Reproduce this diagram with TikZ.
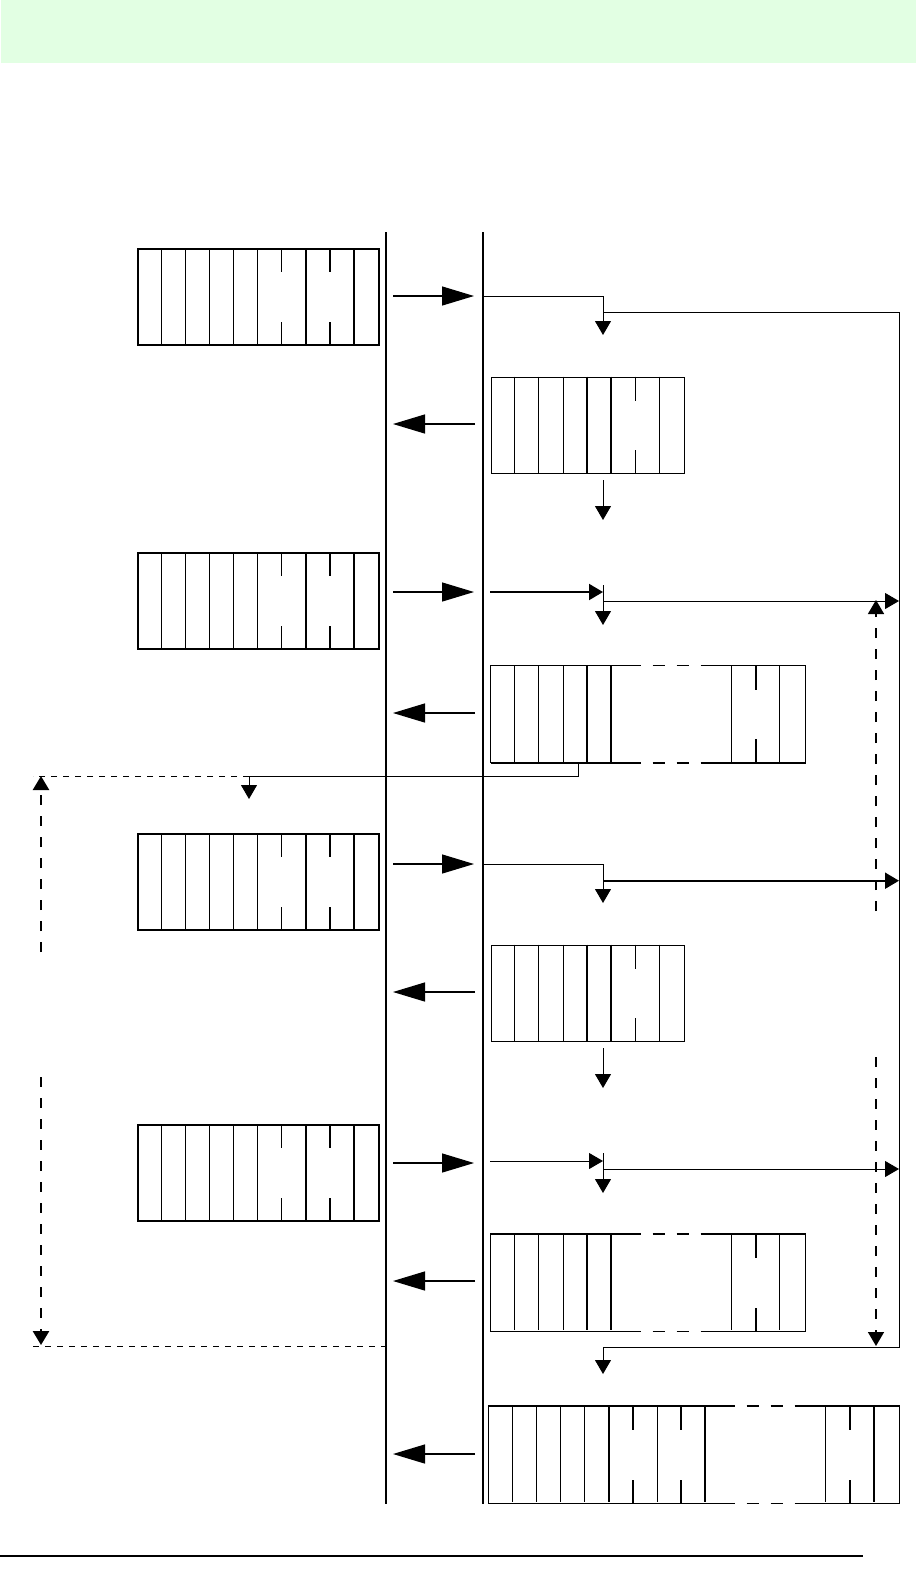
\documentclass[tikz,border=0pt]{standalone}
\usetikzlibrary{arrows.meta}
\definecolor{headgreen}{RGB}{226,255,227}
\newcommand{\cells}[4]{%
  \foreach \k in {#2} \draw[cell] (#1.north west) ++(\k*24.1,0) -- ++(0,96);
  \foreach \k in {#3} \draw[boldcell] (#1.north west) ++(\k*24.1,0) -- ++(0,96);
  \foreach \k in {#4} {
    \draw[boldcell] (#1.north west) ++(\k*24.1,0) -- ++(0,24);
    \draw[boldcell] (#1.south west) ++(\k*24.1,0) -- ++(0,-24);
  }%
}
\newcommand{\gapframe}[2]{%
  \draw[frameline] (#1.south west) -- (#1.north west) -- ++(#2+29.5,0) ++(12,0) -- ++(12,0) ++(12,0) -- ++(12,0) ++(12,0) -- (#1.north east) -- (#1.south east);
  \draw[frameline] (#1.south west) -- ++(#2+29.5,0) ++(12,0) -- ++(12,0) ++(12,0) -- ++(12,0) ++(12,0) -- (#1.south east);
}
\begin{document}
\begin{tikzpicture}[x=1pt, y=-1pt,
    frame/.style={draw, line width=1.5pt, inner sep=0pt, minimum height=96pt, anchor=north west},
    openframe/.style={frame, draw=none},
    frameline/.style={line width=1.5pt},
    cell/.style={line width=1pt},
    boldcell/.style={line width=1.6pt},
    lane/.style={line width=1.3pt},
    bigarrow/.style={-{Triangle[length=32pt,width=19pt]}, line width=1.3pt},
    tip/.style={-{Triangle[length=14pt,width=16pt]}, line width=1pt},
    boldtip/.style={tip, line width=2pt},
    dashlink/.style={dash pattern=on 6pt off 6pt, line width=1pt},
    dashdrop/.style={-{Triangle[length=14pt,width=16pt]}, dash pattern=on 10pt off 11pt, line width=2.5pt}
]
\useasboundingbox (0,0) rectangle (916,1583);
\node[fill=headgreen, inner sep=0pt, minimum width=915pt, minimum height=63pt, anchor=north west] (header) at (1,0) {};

\node[frame, minimum width=241pt] (ask1) at (137,248) {};
\node[frame, minimum width=241pt] (ask2) at (137,552) {};
\node[frame, minimum width=241pt] (ask3) at (137,833) {};
\node[frame, minimum width=241pt] (ask4) at (137,1124) {};
\foreach \b in {ask1,ask2,ask3,ask4} \cells{\b}{1,2,3,4}{5,7,9}{6,8};

\node[frame, minimum width=192.8pt] (reply1) at (490.7,376.7) {};
\node[openframe, minimum width=313.3pt] (reply2) at (490.7,665.7) {};
\node[frame, minimum width=192.8pt] (reply3) at (490.7,944.7) {};
\node[openframe, minimum width=313.3pt] (reply4) at (490.7,1234) {};
\node[openframe, minimum width=409.7pt] (final) at (488.3,1406) {};
\cells{reply1}{1,2,3,7}{4,5}{6}
\cells{reply3}{1,2,3,7}{4,5}{6}
\cells{reply2}{1,2,3,10,12}{4,5}{11}
\cells{reply4}{1,2,3,10,12}{4,5}{11}
\cells{final}{3,4,7,14}{1,2,5,9,16}{6,8,15}
\gapframe{reply2}{120.5}
\gapframe{reply4}{120.5}
\gapframe{final}{216.9}

\coordinate (laneLtop) at (386,232);
\coordinate (laneLbot) at (386,1504);
\coordinate (laneRtop) at (483,232);
\coordinate (laneRbot) at (483,1504);
\draw[lane] (laneLtop) -- (laneLbot);
\draw[lane] (laneRtop) -- (laneRbot);

\foreach \y [count=\i] in {296,592,864,1163} {
  \coordinate (send\i) at (393,\y);
  \coordinate (recv\i) at (474,\y);
  \draw[bigarrow] (send\i) -- (recv\i);
}
\foreach \y [count=\i] in {424,713,992,1281,1454} {
  \coordinate (back\i) at (475,\y);
  \coordinate (land\i) at (393,\y);
  \draw[bigarrow] (back\i) -- (land\i);
}

\coordinate (in1) at (483,296);
\coordinate (turn1) at (603,296);
\coordinate (drop1) at (603,335);
\coordinate (fork1) at (603,312);
\coordinate (edgeTop) at (899,312);
\coordinate (edgeBot) at (899,1347);
\coordinate (merge) at (603,1347);
\coordinate (drop5) at (603,1374);
\draw[tip] (in1) -- (turn1) -- (drop1);
\draw[tip] (fork1) -- (edgeTop) -- (edgeBot) -- (merge) -- (drop5);

\coordinate (out1) at (603,480);
\coordinate (next1) at (603,520);
\coordinate (out3) at (603,1048);
\coordinate (next3) at (603,1088);
\draw[tip] (out1) -- (next1);
\draw[tip] (out3) -- (next3);

\coordinate (in2) at (490,592);
\coordinate (hit2) at (603,592);
\coordinate (tick2) at (603,585);
\coordinate (drop2) at (603,625);
\coordinate (fork2) at (603,601);
\coordinate (edge2) at (899,601);
\draw[boldtip] (in2) -- (hit2);
\draw[tip] (tick2) -- (drop2);
\draw[tip] (fork2) -- (edge2);

\coordinate (in3) at (483,864);
\coordinate (turn3) at (603,864);
\coordinate (drop3) at (603,903);
\coordinate (fork3) at (603,880.7);
\coordinate (edge3) at (899,880.7);
\draw[tip] (in3) -- (turn3) -- (drop3);
\draw[boldtip] (fork3) -- (edge3);

\coordinate (in4) at (490,1161);
\coordinate (hit4) at (603,1161);
\coordinate (tick4) at (603,1153);
\coordinate (drop4) at (603,1193);
\coordinate (fork4) at (603,1169);
\coordinate (edge4) at (899,1169);
\draw[tip] (in4) -- (hit4);
\draw[tip] (tick4) -- (drop4);
\draw[tip] (fork4) -- (edge4);

\coordinate (leak) at (578,762);
\coordinate (leakturn) at (578,776);
\coordinate (reenter) at (249,776);
\coordinate (reenterdrop) at (249,799);
\coordinate (cornerTop) at (33,776);
\coordinate (cornerBot) at (33,1346);
\coordinate (laneLmid) at (386,1346);
\draw[tip] (leak) -- (leakturn) -- (reenter) -- (reenterdrop);
\draw[dashlink] (reenter) -- (cornerTop);
\draw[dashlink] (cornerBot) -- (laneLmid);

\coordinate (holdA) at (41,952);
\coordinate (holdAtip) at (41,776);
\coordinate (holdB) at (41,1077);
\coordinate (holdBtip) at (41,1345);
\draw[dashdrop] (holdA) -- (holdAtip);
\draw[dashdrop] (holdB) -- (holdBtip);

\coordinate (waitA) at (876,911);
\coordinate (waitAtip) at (876,600);
\coordinate (waitB) at (876,1057);
\coordinate (waitBtip) at (876,1346);
\draw[dashdrop, line width=1.5pt] (waitA) -- (waitAtip);
\draw[dashdrop, line width=1.5pt] (waitB) -- (waitBtip);

\coordinate (ruleL) at (0,1556);
\coordinate (ruleR) at (863,1556);
\draw[line width=1.2pt] (ruleL) -- (ruleR);
\end{tikzpicture}
\end{document}
